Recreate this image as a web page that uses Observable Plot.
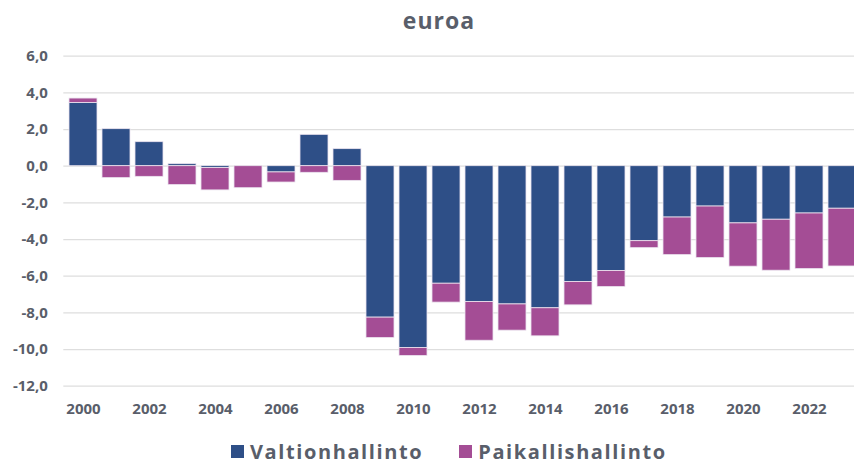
<!DOCTYPE html>
<html>
<head>
<meta charset="utf-8">
<script src="https://cdn.jsdelivr.net/npm/d3@7"></script>
<script src="https://cdn.jsdelivr.net/npm/@observablehq/plot@0.6"></script>
<style>
  html, body { margin: 0; padding: 0; background: #ffffff; overflow: hidden; }
  #wrap { width: 854px; height: 464px; overflow: hidden; position: relative; font-family: "Open Sans", sans-serif; color: #595e6a; }
  #title { height: 40px; line-height: 40px; text-align: center; font-size: 23px; font-weight: 700; letter-spacing: 1px; padding-left: 24px; box-sizing: border-box; }
  #chart { width: 870px; height: 385px; }
  #chart svg { max-width: none !important; display: block; }
  #legend { height: 52px; display: flex; align-items: center; margin-left: 231px; font-size: 20px; font-weight: 700; letter-spacing: 1.6px; }
  .item { display: flex; align-items: center; margin-right: 36px; }
  .sw { width: 13px; height: 13px; margin-right: 6px; }
</style>
</head>
<body>
<div id="wrap">
  <div id="title">euroa</div>
  <div id="chart"></div>
  <div id="legend"></div>
</div>
<script>
const years = [2000, 2001, 2002, 2003, 2004, 2005, 2006, 2007, 2008, 2009, 2010, 2011,
               2012, 2013, 2014, 2015, 2016, 2017, 2018, 2019, 2020, 2021, 2022, 2023];
const seriesNames = ["Valtionhallinto", "Paikallishallinto"];
const seriesColors = ["#2e4f87", "#a44d95"];
const valtionhallinto = [3.45, 2.02, 1.31, 0.11, -0.10, 0.00, -0.34, 1.71, 0.93, -8.26, -9.92, -6.41,
                         -7.41, -7.54, -7.75, -6.32, -5.72, -4.09, -2.80, -2.20, -3.12, -2.92, -2.58, -2.32];
const paikallishallinto = [0.24, -0.65, -0.58, -1.03, -1.22, -1.20, -0.55, -0.36, -0.80, -1.11, -0.43, -1.03,
                           -2.11, -1.43, -1.53, -1.27, -0.87, -0.38, -2.05, -2.81, -2.36, -2.78, -3.03, -3.15];
const yTicks = [6, 4, 2, 0, -2, -4, -6, -8, -10, -12];
const xTickLabels = [2000, 2002, 2004, 2006, 2008, 2010, 2012, 2014, 2016, 2018, 2020, 2022];

const data = [];
years.forEach((y, i) => {
  data.push({year: y, series: seriesNames[0], value: valtionhallinto[i]});
  data.push({year: y, series: seriesNames[1], value: paikallishallinto[i]});
});

const fmt = d => d.toFixed(1).replace(".", ",");

const chart = Plot.plot({
  width: 870,
  height: 385,
  marginLeft: 63.3,
  marginRight: 8.2,
  marginTop: 15.7,
  marginBottom: 39.3,
  style: {fontFamily: "Open Sans", fontSize: "15px", fontWeight: 700, color: "#595e6a", background: "transparent", maxWidth: "none"},
  x: {type: "band", domain: years, paddingInner: 0.143, paddingOuter: 0.072, label: null},
  y: {domain: [-12, 6], label: null},
  color: {domain: seriesNames, range: seriesColors},
  marks: [
    Plot.ruleY(yTicks, {stroke: "#dedede", strokeWidth: 1.2}),
    Plot.barY(data, {x: "year", y: "value", fill: "series", stroke: "#ece4ef", strokeWidth: 0.8}),
    Plot.axisY({ticks: yTicks, tickSize: 0, tickPadding: 16, tickFormat: fmt, fontSize: 15}),
    Plot.axisX({ticks: xTickLabels, tickSize: 0, tickPadding: 17, tickFormat: d => String(d), fontSize: 15})
  ]
});
document.getElementById("chart").appendChild(chart);

const legend = document.getElementById("legend");
seriesNames.forEach((name, i) => {
  const item = document.createElement("div");
  item.className = "item";
  const sw = document.createElement("div");
  sw.className = "sw";
  sw.style.background = seriesColors[i];
  const label = document.createElement("span");
  label.textContent = name;
  item.appendChild(sw);
  item.appendChild(label);
  legend.appendChild(item);
});
</script>
</body>
</html>
